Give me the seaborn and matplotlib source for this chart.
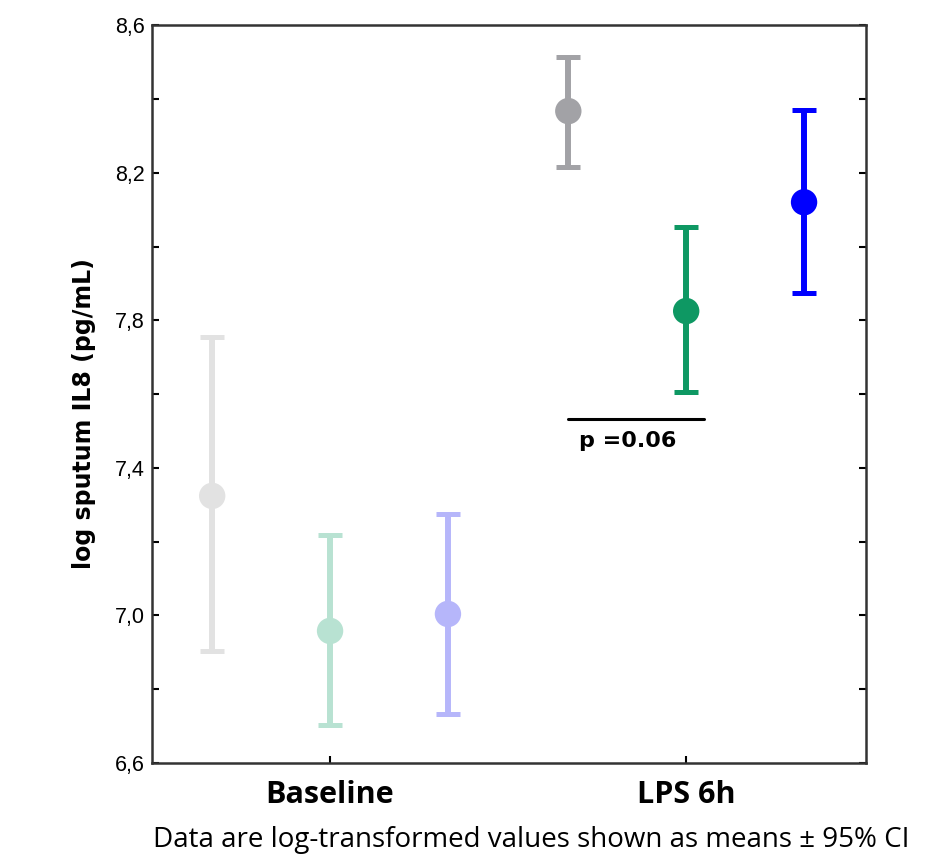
import numpy as np
import pandas as pd
import matplotlib
matplotlib.use("Agg")
import matplotlib.pyplot as plt
import seaborn as sns

# Datos (medias e IC 95%)
tiempos = ["Baseline", "LPS 6h"]
grupos = ["A", "B", "C"]
medias = [[7.324, 6.958, 7.004], [8.367, 7.825, 8.120]]
ic_inf = [[6.904, 6.703, 6.733], [8.215, 7.605, 7.874]]
ic_sup = [[7.754, 7.218, 7.275], [8.513, 8.053, 8.370]]
colores = [["#e2e2e2", "#b8e2d2", "#b6b6fa"], ["#a2a2a6", "#0e9863", "#0000ff"]]
p_texto = "p =0.06"
p_y = 7.532

sns.set_style("ticks")
plt.rcParams.update({"text.color": "black", "axes.labelcolor": "black",
                     "xtick.color": "black", "ytick.color": "black"})

filas = []
for i, t in enumerate(tiempos):
    for j, g in enumerate(grupos):
        filas.append({"tiempo": t, "grupo": g, "media": medias[i][j],
                      "lo": ic_inf[i][j], "hi": ic_sup[i][j],
                      "color": colores[i][j], "pos": i + (j - 1) * 0.331})
df = pd.DataFrame(filas)

fig = plt.figure(figsize=(9.47, 8.61), dpi=100)
ax = fig.add_axes([0.1605, 0.1138, 0.754, 0.857])

for _, r in df.iterrows():
    ax.errorbar(r["pos"], r["media"],
                yerr=[[r["media"] - r["lo"]], [r["hi"] - r["media"]]],
                fmt="none", ecolor=r["color"], elinewidth=4.3,
                capsize=8.6, capthick=3.6, zorder=2)

sns.scatterplot(data=df, x="pos", y="media", hue="color",
                palette={c: c for c in df["color"]}, s=19 ** 2,
                linewidth=0, legend=False, ax=ax, zorder=3)

# linea de significancia
ax.plot([0.669, 1.05], [p_y, p_y], color="black", lw=2.2)
ax.text(0.70, p_y - 0.033, p_texto, fontsize=16, fontweight="bold",
        family="DejaVu Sans", va="top", ha="left")

ax.set_xlim(-0.5, 1.505)
ax.set_ylim(6.6, 8.6)
ax.set_xticks([0, 1])
ax.set_xticklabels(tiempos, fontsize=22, fontweight="bold", family="Open Sans")
ax.set_yticks([6.6, 6.8, 7.0, 7.2, 7.4, 7.6, 7.8, 8.0, 8.2, 8.4, 8.6])
ax.set_yticklabels(["6,6", "", "7,0", "", "7,4", "", "7,8", "", "8,2", "", "8,6"],
                   fontsize=15.5, family="Liberation Sans")
ax.tick_params(axis="both", direction="in", length=5, width=1.5,
               right=True, top=False)
ax.tick_params(axis="y", pad=5)
ax.tick_params(axis="x", pad=12)
for s in ax.spines.values():
    s.set_linewidth(1.8)
    s.set_color("#333333")
ax.set_xlabel("")
ax.set_ylabel("log sputum IL8 (pg/mL)", fontsize=17, fontweight="bold",
              family="DejaVu Sans")
ax.yaxis.set_label_coords(-0.078, 0.473)

fig.text(0.561, 0.008, "Data are log-transformed values shown as means \u00b1 95% CI",
         ha="center", va="bottom", fontsize=20, family="Open Sans")

fig.savefig("out.png", dpi=100)
